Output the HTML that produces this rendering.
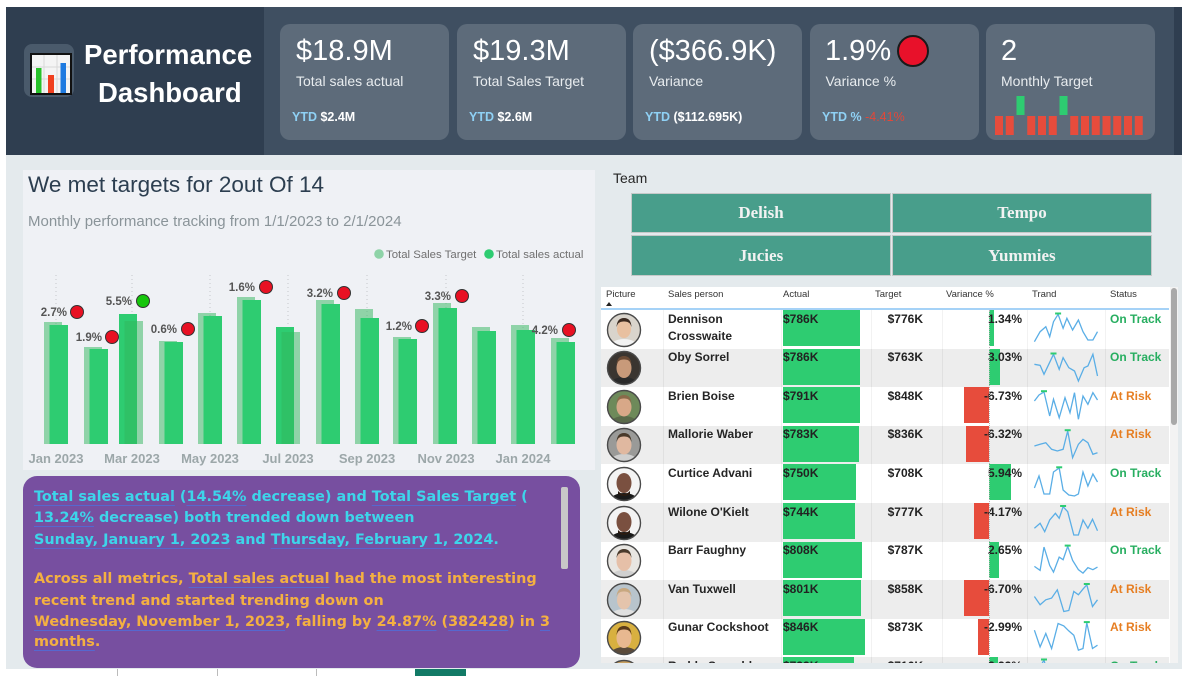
<!DOCTYPE html>
<html><head><meta charset="utf-8">
<style>
*{margin:0;padding:0;box-sizing:border-box}
body{width:1200px;height:676px;overflow:hidden;background:#fff;font-family:"Liberation Sans",Arial,sans-serif;position:relative}
.a{position:absolute}
.card{position:absolute;top:24px;width:169px;height:116px;background:#5d6b7a;border-radius:10px;color:#fff}
.card .v{position:absolute;left:16px;top:12.5px;font-size:29px;line-height:29px;white-space:nowrap}
.card .l{position:absolute;left:16px;top:50px;font-size:14px;line-height:14px;color:#e8ecef;white-space:nowrap}
.card .y{position:absolute;left:12px;top:86.5px;font-size:12.5px;line-height:12.5px;font-weight:bold;white-space:nowrap}
.card .y b{color:#8fd1f5}
.btn{position:absolute;background:#489e8b;border:1px solid #c6c9c9;color:#f2f2f2;font:bold 17px "Liberation Serif",serif;display:flex;align-items:center;justify-content:center}
.pt{position:absolute;left:34px;font:bold 14.4px/21px "DejaVu Sans",sans-serif;white-space:nowrap}
.u{text-decoration:underline;text-decoration-color:#5668cf;text-underline-offset:4px;text-decoration-thickness:1px}
.th{position:absolute;top:290px;font-size:9.5px;line-height:10px;color:#333;white-space:nowrap}
.row{position:absolute;left:601px;width:568px;height:38.6px}
.row .nm{position:absolute;left:67px;top:0.5px;font:bold 12px/17px "Liberation Sans",Arial,sans-serif;color:#252525}
.row .ab{position:absolute;left:182px;top:0;height:36px;background:#2ecc71}
.row .at{position:absolute;left:182px;top:0.5px;font:bold 12px/17px "Liberation Sans",Arial,sans-serif;color:#222}
.row .tt{position:absolute;left:221px;width:101px;text-align:right;top:0.5px;font:bold 12px/17px "Liberation Sans",Arial,sans-serif;color:#222}
.row .vb{position:absolute;top:0;height:36px}
.row .vt{position:absolute;left:341px;width:80px;text-align:right;top:0.5px;font:bold 12px/17px "Liberation Sans",Arial,sans-serif;color:#222}
.row .st{position:absolute;left:509px;top:0.5px;font:bold 12px/17px "Liberation Sans",Arial,sans-serif}
.row svg.sp{position:absolute;left:433px;top:0;overflow:visible}
.row svg.av{position:absolute;left:5px;top:1.5px}
.on{color:#27ae60}.rk{color:#e67e22}
.g{background:#ededed}
</style></head><body>

<!-- header -->
<div class="a" style="left:6px;top:7px;width:1176px;height:148px;background:#3f4f61"></div>
<div class="a" style="left:6px;top:7px;width:258px;height:148px;background:#2f3e50"></div>
<div class="a" style="left:1174px;top:7px;width:8px;height:148px;background:#2f3e50"></div>

<!-- logo -->
<div class="a" style="left:24px;top:44px;width:50px;height:53px;background:#4a5a6b;border-radius:8px"></div>
<svg class="a" style="left:30px;top:53px" width="42" height="42" viewBox="0 0 42 42">
<rect x="1" y="1" width="40" height="40" fill="#f4f4f4" stroke="#111" stroke-width="2"/>
<path d="M2 14H40M2 26H40M14 2V40M27 2V40" stroke="#d8d8d8" stroke-width="1"/>
<rect x="6" y="15" width="5.5" height="25" fill="#27c22a"/>
<rect x="18" y="22" width="6" height="18" fill="#f0401f"/>
<rect x="30.5" y="10" width="5.5" height="30" fill="#1e7ae0"/>
</svg>
<div class="a" style="left:84px;top:40.7px;font:bold 27.5px/27.5px 'Liberation Sans',Arial,sans-serif;color:#fff;white-space:nowrap">Performance</div>
<div class="a" style="left:98px;top:78.7px;font:bold 27.5px/27.5px 'Liberation Sans',Arial,sans-serif;color:#fff;white-space:nowrap">Dashboard</div>

<!-- KPI cards -->
<div class="card" style="left:280px"><div class="v">$18.9M</div><div class="l">Total sales actual</div><div class="y"><b>YTD</b> $2.4M</div></div>
<div class="card" style="left:457px"><div class="v">$19.3M</div><div class="l">Total Sales Target</div><div class="y"><b>YTD</b> $2.6M</div></div>
<div class="card" style="left:633px"><div class="v">($366.9K)</div><div class="l">Variance</div><div class="y"><b>YTD</b> ($112.695K)</div></div>
<div class="card" style="left:810px"><div class="v" style="left:15px">1.9%</div>
<div class="a" style="left:87px;top:11px;width:32px;height:32px;border-radius:50%;background:#e8112a;border:2px solid #1a1a1a"></div>
<div class="l" style="left:15.5px">Variance %</div><div class="y"><b>YTD %</b> <span style="color:#e0483a;font-weight:normal">-4.41%</span></div></div>
<div class="card" style="left:986px"><div class="v" style="left:15px">2</div><div class="l" style="left:15px">Monthly Target</div>
<svg class="a" style="left:0;top:0" width="169" height="116">
<g fill="#e74c3c">
<rect x="9" y="92" width="8" height="19"/><rect x="19.75" y="92" width="8" height="19"/>
<rect x="41.25" y="92" width="8" height="19"/><rect x="52" y="92" width="8" height="19"/><rect x="62.75" y="92" width="8" height="19"/>
<rect x="84.25" y="92" width="8" height="19"/><rect x="95" y="92" width="8" height="19"/><rect x="105.75" y="92" width="8" height="19"/><rect x="116.5" y="92" width="8" height="19"/><rect x="127.25" y="92" width="8" height="19"/><rect x="138" y="92" width="8" height="19"/><rect x="148.75" y="92" width="8" height="19"/>
</g>
<g fill="#2ecc71"><rect x="30.5" y="72" width="8" height="19"/><rect x="73.5" y="72" width="8" height="19"/></g>
</svg></div>

<!-- main bg -->
<div class="a" style="left:6px;top:155px;width:1176px;height:514px;background:#e4eaed"></div>

<!-- chart panel -->
<div class="a" style="left:23px;top:170px;width:572px;height:300px;background:#eff1f5"></div>
<div class="a" style="left:28px;top:174px;font-size:22.5px;line-height:22.5px;color:#2c3e50;white-space:nowrap">We met targets for 2out Of 14</div>
<div class="a" style="left:28px;top:213.5px;font-size:15px;line-height:15px;color:#8a9499;white-space:nowrap">Monthly performance tracking from 1/1/2023 to 2/1/2024</div>

<svg class="a" style="left:0;top:0" width="600" height="470" viewBox="0 0 600 470">
<g stroke="#c4c8cc" stroke-width="1" stroke-dasharray="1,3">
<line x1="56" y1="275" x2="56" y2="444"/><line x1="132" y1="275" x2="132" y2="444"/><line x1="210" y1="275" x2="210" y2="444"/><line x1="288" y1="275" x2="288" y2="444"/><line x1="367" y1="275" x2="367" y2="444"/><line x1="446" y1="275" x2="446" y2="444"/><line x1="523" y1="275" x2="523" y2="444"/>
</g>
<circle cx="379" cy="254" r="4.8" fill="#8ed3a7"/>
<text x="386" y="258" font-family="Liberation Sans, Arial, sans-serif" font-size="11.4" fill="#707070">Total Sales Target</text>
<circle cx="489" cy="254" r="4.8" fill="#2ecc71"/>
<text x="496" y="258" font-family="Liberation Sans, Arial, sans-serif" font-size="11.4" fill="#707070">Total sales actual</text>
<g>
<rect x="44" y="322" width="18" height="122" fill="rgba(47,181,91,0.5)"/><rect x="49.5" y="325" width="18.5" height="119" fill="#2ecc71"/>
<rect x="84" y="347" width="18" height="97" fill="rgba(47,181,91,0.5)"/><rect x="89.5" y="349" width="18.5" height="95" fill="#2ecc71"/>
<rect x="119" y="314" width="18" height="130" fill="#2ecc71"/><rect x="124.5" y="321" width="18.5" height="123" fill="rgba(47,181,91,0.5)"/>
<rect x="159" y="341" width="18" height="103" fill="rgba(47,181,91,0.5)"/><rect x="164.5" y="342" width="18.5" height="102" fill="#2ecc71"/>
<rect x="198" y="313" width="18" height="131" fill="rgba(47,181,91,0.5)"/><rect x="203.5" y="316" width="18.5" height="128" fill="#2ecc71"/>
<rect x="237" y="297" width="18" height="147" fill="rgba(47,181,91,0.5)"/><rect x="242.5" y="300" width="18.5" height="144" fill="#2ecc71"/>
<rect x="276" y="327" width="18" height="117" fill="#2ecc71"/><rect x="281.5" y="332" width="18.5" height="112" fill="rgba(47,181,91,0.5)"/>
<rect x="316" y="300" width="18" height="144" fill="rgba(47,181,91,0.5)"/><rect x="321.5" y="304" width="18.5" height="140" fill="#2ecc71"/>
<rect x="355" y="309" width="18" height="135" fill="rgba(47,181,91,0.5)"/><rect x="360.5" y="318" width="18.5" height="126" fill="#2ecc71"/>
<rect x="393" y="337" width="18" height="107" fill="rgba(47,181,91,0.5)"/><rect x="398.5" y="339" width="18.5" height="105" fill="#2ecc71"/>
<rect x="433" y="303" width="18" height="141" fill="rgba(47,181,91,0.5)"/><rect x="438.5" y="308" width="18.5" height="136" fill="#2ecc71"/>
<rect x="472" y="327" width="18" height="117" fill="rgba(47,181,91,0.5)"/><rect x="477.5" y="331" width="18.5" height="113" fill="#2ecc71"/>
<rect x="511" y="325" width="18" height="119" fill="rgba(47,181,91,0.5)"/><rect x="516.5" y="330" width="18.5" height="114" fill="#2ecc71"/>
<rect x="551" y="338" width="18" height="106" fill="rgba(47,181,91,0.5)"/><rect x="556.5" y="342" width="18.5" height="102" fill="#2ecc71"/>
</g>
<g font-family="Liberation Sans, Arial, sans-serif" font-size="11.5" font-weight="bold" fill="#555" text-anchor="end">
<text x="67" y="316">2.7%</text><text x="102" y="341">1.9%</text><text x="132" y="305">5.5%</text><text x="177" y="333">0.6%</text><text x="255" y="291">1.6%</text><text x="333" y="297">3.2%</text><text x="412" y="330">1.2%</text><text x="451" y="300">3.3%</text><text x="558" y="334">4.2%</text>
</g>
<g fill="#e81123" stroke="#333" stroke-width="1">
<circle cx="77" cy="312" r="6.5"/><circle cx="112" cy="337" r="6.5"/><circle cx="188" cy="329" r="6.5"/><circle cx="266" cy="287" r="6.5"/><circle cx="344" cy="293" r="6.5"/><circle cx="422" cy="326" r="6.5"/><circle cx="462" cy="296" r="6.5"/><circle cx="569" cy="330" r="6.5"/>
<circle cx="143" cy="301" r="6.5" fill="#16c60c"/>
</g>
<g font-family="Liberation Sans, Arial, sans-serif" font-size="13" font-weight="bold" fill="#9ca7a9" text-anchor="middle">
<text x="56" y="463">Jan 2023</text><text x="132" y="463">Mar 2023</text><text x="210" y="463">May 2023</text><text x="288" y="463">Jul 2023</text><text x="367" y="463">Sep 2023</text><text x="446" y="463">Nov 2023</text><text x="523" y="463">Jan 2024</text>
</g>
</svg>

<!-- purple narrative -->
<div class="a" style="left:23px;top:476px;width:557px;height:192px;background:#774fa0;border-radius:14px"></div>
<div class="a" style="left:561px;top:487px;width:7px;height:82px;background:#c8c8c8;border-radius:2px"></div>
<div class="pt" style="top:486.5px;color:#3dd5ea"><span class="u">Total sales actual</span> (<span class="u">14.54%</span> decrease) and <span class="u">Total Sales Target</span> (</div>
<div class="pt" style="top:508px;color:#3dd5ea"><span class="u">13.24%</span> decrease) both trended down between</div>
<div class="pt" style="top:529.5px;color:#3dd5ea"><span class="u">Sunday, January 1, 2023</span> and <span class="u">Thursday, February 1, 2024</span>.</div>
<div class="pt" style="top:568.5px;color:#f4b041">Across all metrics, <span class="u">Total sales actual</span> had the most interesting</div>
<div class="pt" style="top:590.5px;color:#f4b041">recent trend and started trending down on</div>
<div class="pt" style="top:611.5px;color:#f4b041"><span class="u">Wednesday, November 1, 2023</span>, falling by <span class="u">24.87%</span> (<span class="u">382428</span>) in <span class="u">3</span></div>
<div class="pt" style="top:631.5px;color:#f4b041"><span class="u">months</span>.</div>

<!-- bottom tabs -->
<div class="a" style="left:117px;top:669px;width:1px;height:7px;background:#bbb"></div>
<div class="a" style="left:217px;top:669px;width:1px;height:7px;background:#bbb"></div>
<div class="a" style="left:316px;top:669px;width:1px;height:7px;background:#bbb"></div>
<div class="a" style="left:415px;top:669px;width:51px;height:7px;background:#127a66"></div>

<!-- team -->
<div class="a" style="left:613px;top:171px;font-size:14px;line-height:14px;color:#252525">Team</div>
<div class="btn" style="left:631px;top:193px;width:260px;height:40px">Delish</div>
<div class="btn" style="left:892px;top:193px;width:260px;height:40px">Tempo</div>
<div class="btn" style="left:631px;top:235px;width:260px;height:41px">Jucies</div>
<div class="btn" style="left:892px;top:235px;width:260px;height:41px">Yummies</div>

<!-- table -->
<div class="a" style="left:601px;top:287px;width:577px;height:376px;background:#fff;overflow:hidden">
</div>
<div class="a" style="left:1170px;top:287px;width:8px;height:376px;background:#f3f3f3"></div>
<div class="a" style="left:1171px;top:288px;width:6px;height:137px;background:#a9a9a9;border-radius:3px"></div>
<div class="th" style="left:606px">Picture</div>
<div class="a" style="left:606px;top:302px;width:0;height:0;border-left:3px solid transparent;border-right:3px solid transparent;border-bottom:4px solid #222"></div>
<div class="th" style="left:668px">Sales person</div>
<div class="th" style="left:783px">Actual</div>
<div class="th" style="left:875px">Target</div>
<div class="th" style="left:946px">Variance %</div>
<div class="th" style="left:1032px">Trand</div>
<div class="th" style="left:1110px">Status</div>
<div class="a" style="left:601px;top:308px;width:568px;height:2px;background:#a5d2f7"></div>

<div class="a" style="left:601px;top:310px;width:568px;height:353px;overflow:hidden">
<div style="position:absolute;left:-601px;top:-310px;width:1200px;height:700px">

<div class="row" style="top:310px">
<svg class="av" width="36" height="36"><clipPath id="k1"><circle cx="18" cy="18" r="16.5"/></clipPath><g clip-path="url(#k1)"><rect width="36" height="36" fill="#d9d4cc"/><ellipse cx="18" cy="35" rx="14" ry="8" fill="#f2f2f2"/><ellipse cx="18" cy="17" rx="7" ry="9" fill="#e8c0a0"/><path d="M10.5 15Q11 6 18 6Q25 6 25.5 15Q24 9 18 9.5Q12 9 10.5 15Z" fill="#3b2a20"/></g><circle cx="18" cy="18" r="16.5" fill="none" stroke="#4a4a4a" stroke-width="1.4"/></svg>
<div class="nm">Dennison<br>Crosswaite</div>
<div class="ab" style="width:76.5px"></div><div class="at">$786K</div>
<div class="tt">$776K</div>
<div class="vb" style="left:388px;width:5px;background:#2ecc71"></div><div class="vt">1.34%</div>
<svg class="sp" width="66" height="38"><polyline fill="none" stroke="#5aaee6" stroke-width="1.3" points="0.4,31.7 6.1,21.7 11.8,16.7 15.7,26.7 19.5,11.7 24.1,4.3 29.1,18.3 32.9,8.3 38.6,20 44.4,10 49,21.7 53.9,30 58.9,30 63.5,21.7"/><rect x="21.1" y="2.5" width="6" height="2" fill="#2ecc71"/></svg>
<div class="st on">On Track</div>
</div>

<div class="row g" style="top:348.6px">
<svg class="av" width="36" height="36"><clipPath id="k2"><circle cx="18" cy="18" r="16.5"/></clipPath><g clip-path="url(#k2)"><rect width="36" height="36" fill="#3a3530"/><ellipse cx="18" cy="35" rx="14" ry="8" fill="#2a2a2a"/><ellipse cx="18" cy="18" rx="7.5" ry="10" fill="#c89a7a"/><path d="M10.5 15Q11 6 18 6Q25 6 25.5 15Q24 9 18 9.5Q12 9 10.5 15Z" fill="#6a4a34"/></g><circle cx="18" cy="18" r="16.5" fill="none" stroke="#4a4a4a" stroke-width="1.4"/></svg>
<div class="nm">Oby Sorrel</div>
<div class="ab" style="width:76.5px"></div><div class="at">$786K</div>
<div class="tt">$763K</div>
<div class="vb" style="left:388px;width:11.2px;background:#2ecc71"></div><div class="vt">3.03%</div>
<svg class="sp" width="66" height="38"><polyline fill="none" stroke="#5aaee6" stroke-width="1.3" points="0.4,15.3 6.1,16.3 10,25.3 19.5,5.3 25.2,20.3 29.1,8.7 34.8,18.7 40.5,22 44.4,32 50.1,18.7 53.9,17 58.9,5.3 63.5,27"/><rect x="16.5" y="3.5" width="6" height="2" fill="#2ecc71"/></svg>
<div class="st on">On Track</div>
</div>

<div class="row" style="top:387.2px">
<svg class="av" width="36" height="36"><clipPath id="k3"><circle cx="18" cy="18" r="16.5"/></clipPath><g clip-path="url(#k3)"><rect width="36" height="36" fill="#6e8a5a"/><ellipse cx="18" cy="35" rx="14" ry="8" fill="#5a6a4a"/><ellipse cx="18" cy="18" rx="7.5" ry="9.5" fill="#d8a888"/><path d="M10.5 15Q11 6 18 6Q25 6 25.5 15Q24 9 18 9.5Q12 9 10.5 15Z" fill="#8a6a4a"/></g><circle cx="18" cy="18" r="16.5" fill="none" stroke="#4a4a4a" stroke-width="1.4"/></svg>
<div class="nm">Brien Boise</div>
<div class="ab" style="width:77px"></div><div class="at">$791K</div>
<div class="tt">$848K</div>
<div class="vb" style="left:363.1px;width:24.9px;background:#e74c3c"></div><div class="vt">-6.73%</div>
<svg class="sp" width="66" height="38"><polyline fill="none" stroke="#5aaee6" stroke-width="1.3" points="0.4,14 5,8 10,5 15.7,29 19.5,12.3 25.2,30.7 31,10.7 36,25.7 40.5,5.7 44.4,32.3 49,9 53.9,17.3 58.9,5.7 63.5,13"/><rect x="7" y="3.2" width="6" height="2" fill="#2ecc71"/></svg>
<div class="st rk">At Risk</div>
</div>

<div class="row g" style="top:425.8px">
<svg class="av" width="36" height="36"><clipPath id="k4"><circle cx="18" cy="18" r="16.5"/></clipPath><g clip-path="url(#k4)"><rect width="36" height="36" fill="#9a9a98"/><ellipse cx="18" cy="35" rx="14" ry="8" fill="#cfcfcf"/><ellipse cx="18" cy="18" rx="7.5" ry="9.5" fill="#e0b8a0"/><path d="M10.5 15Q11 6 18 6Q25 6 25.5 15Q24 9 18 9.5Q12 9 10.5 15Z" fill="#4a3a2a"/></g><circle cx="18" cy="18" r="16.5" fill="none" stroke="#4a4a4a" stroke-width="1.4"/></svg>
<div class="nm">Mallorie Waber</div>
<div class="ab" style="width:76.2px"></div><div class="at">$783K</div>
<div class="tt">$836K</div>
<div class="vb" style="left:364.6px;width:23.4px;background:#e74c3c"></div><div class="vt">-6.32%</div>
<svg class="sp" width="66" height="38"><polyline fill="none" stroke="#5aaee6" stroke-width="1.3" points="0.4,20 6.1,18.3 11.8,16.7 17.6,23.3 23.3,25 29.1,23.3 33.7,5 38.6,31.7 44.4,18.3 49,13.3 53.9,16.7 58.9,28.3 63.5,26.7"/><rect x="30.7" y="3.2" width="6" height="2" fill="#2ecc71"/></svg>
<div class="st rk">At Risk</div>
</div>

<div class="row" style="top:464.4px">
<svg class="av" width="36" height="36"><clipPath id="k5"><circle cx="18" cy="18" r="16.5"/></clipPath><g clip-path="url(#k5)"><rect width="36" height="36" fill="#f4f4f4"/><ellipse cx="18" cy="35" rx="14" ry="8" fill="#1a1a1a"/><ellipse cx="18" cy="17" rx="7.5" ry="10" fill="#7a5040"/><path d="M12 25Q18 31 24 25L24 28Q18 32 12 28Z" fill="#2a1a10"/></g><circle cx="18" cy="18" r="16.5" fill="none" stroke="#4a4a4a" stroke-width="1.4"/></svg>
<div class="nm">Curtice Advani</div>
<div class="ab" style="width:73px"></div><div class="at">$750K</div>
<div class="tt">$708K</div>
<div class="vb" style="left:388px;width:22px;background:#2ecc71"></div><div class="vt">5.94%</div>
<svg class="sp" width="66" height="38"><polyline fill="none" stroke="#5aaee6" stroke-width="1.3" points="0.4,24 5,12 10,30 15.7,30 19.5,8 25.2,4 29.1,26 34.8,31 40.5,32 44.4,30 49,8 53.9,22 58.9,10 63.5,18"/><rect x="22.2" y="2.3" width="6" height="2" fill="#2ecc71"/></svg>
<div class="st on">On Track</div>
</div>

<div class="row g" style="top:503px">
<svg class="av" width="36" height="36"><clipPath id="k6"><circle cx="18" cy="18" r="16.5"/></clipPath><g clip-path="url(#k6)"><rect width="36" height="36" fill="#f4f4f4"/><ellipse cx="18" cy="35" rx="14" ry="8" fill="#1a1a1a"/><ellipse cx="18" cy="17" rx="7.5" ry="10" fill="#7a5040"/><path d="M12 25Q18 31 24 25L24 28Q18 32 12 28Z" fill="#2a1a10"/></g><circle cx="18" cy="18" r="16.5" fill="none" stroke="#4a4a4a" stroke-width="1.4"/></svg>
<div class="nm">Wilone O'Kielt</div>
<div class="ab" style="width:72.4px"></div><div class="at">$744K</div>
<div class="tt">$777K</div>
<div class="vb" style="left:372.6px;width:15.4px;background:#e74c3c"></div><div class="vt">-4.17%</div>
<svg class="sp" width="66" height="38"><polyline fill="none" stroke="#5aaee6" stroke-width="1.3" points="0.4,25.3 6.1,20.3 10.7,28.7 15.7,17 21.4,10.3 25.2,15.3 29.1,3.7 33.7,8.7 39.8,32 44.4,32 49,17 53.9,25.3 58.5,16.3 63.5,27.7"/><rect x="26.1" y="2" width="6" height="2" fill="#2ecc71"/></svg>
<div class="st rk">At Risk</div>
</div>

<div class="row" style="top:541.6px">
<svg class="av" width="36" height="36"><clipPath id="k7"><circle cx="18" cy="18" r="16.5"/></clipPath><g clip-path="url(#k7)"><rect width="36" height="36" fill="#e8e6e2"/><ellipse cx="18" cy="35" rx="14" ry="8" fill="#d0d0d0"/><ellipse cx="18" cy="18" rx="7.5" ry="10" fill="#e6c0a8"/><path d="M10.5 15Q11 6 18 6Q25 6 25.5 15Q24 9 18 9.5Q12 9 10.5 15Z" fill="#4a3a2c"/></g><circle cx="18" cy="18" r="16.5" fill="none" stroke="#4a4a4a" stroke-width="1.4"/></svg>
<div class="nm">Barr Faughny</div>
<div class="ab" style="width:78.6px"></div><div class="at">$808K</div>
<div class="tt">$787K</div>
<div class="vb" style="left:388px;width:9.8px;background:#2ecc71"></div><div class="vt">2.65%</div>
<svg class="sp" width="66" height="38"><polyline fill="none" stroke="#5aaee6" stroke-width="1.3" points="0.4,24.4 6.1,28.4 10,5.1 15.7,23.4 19.5,30.1 25.2,15.1 29.1,17.7 33.7,4.4 38.6,18.4 44.4,27.7 49,31.1 53.9,25.7 58.9,27.7 63.5,25.1"/><rect x="30.7" y="2.6" width="6" height="2" fill="#2ecc71"/></svg>
<div class="st on">On Track</div>
</div>

<div class="row g" style="top:580.2px">
<svg class="av" width="36" height="36"><clipPath id="k8"><circle cx="18" cy="18" r="16.5"/></clipPath><g clip-path="url(#k8)"><rect width="36" height="36" fill="#b8c4cc"/><ellipse cx="18" cy="35" rx="14" ry="8" fill="#e0e0e0"/><ellipse cx="18" cy="18" rx="7" ry="9.5" fill="#e4c4ac"/><path d="M10.5 15Q11 6 18 6Q25 6 25.5 15Q24 9 18 9.5Q12 9 10.5 15Z" fill="#c8a880"/></g><circle cx="18" cy="18" r="16.5" fill="none" stroke="#4a4a4a" stroke-width="1.4"/></svg>
<div class="nm">Van Tuxwell</div>
<div class="ab" style="width:77.9px"></div><div class="at">$801K</div>
<div class="tt">$858K</div>
<div class="vb" style="left:363.2px;width:24.8px;background:#e74c3c"></div><div class="vt">-6.70%</div>
<svg class="sp" width="66" height="38"><polyline fill="none" stroke="#5aaee6" stroke-width="1.3" points="0.4,16.5 6.1,24.8 11.8,19.8 17.6,18.1 23.3,9.8 29.8,31.5 34.8,30.5 39.8,11.5 44.4,14.8 49,9.1 52.8,4.8 58.5,26.5 63.5,19.8"/><rect x="49.8" y="3" width="6" height="2" fill="#2ecc71"/></svg>
<div class="st rk">At Risk</div>
</div>

<div class="row" style="top:618.8px">
<svg class="av" width="36" height="36"><clipPath id="k9"><circle cx="18" cy="18" r="16.5"/></clipPath><g clip-path="url(#k9)"><rect width="36" height="36" fill="#d8b040"/><ellipse cx="18" cy="35" rx="14" ry="8" fill="#5a4a3a"/><ellipse cx="18" cy="18" rx="7.5" ry="10" fill="#e8b890"/><path d="M10.5 15Q11 6 18 6Q25 6 25.5 15Q24 9 18 9.5Q12 9 10.5 15Z" fill="#5a3a1a"/></g><circle cx="18" cy="18" r="16.5" fill="none" stroke="#4a4a4a" stroke-width="1.4"/></svg>
<div class="nm">Gunar Cockshoot</div>
<div class="ab" style="width:82.3px"></div><div class="at">$846K</div>
<div class="tt">$873K</div>
<div class="vb" style="left:376.9px;width:11.1px;background:#e74c3c"></div><div class="vt">-2.99%</div>
<svg class="sp" width="66" height="38"><polyline fill="none" stroke="#5aaee6" stroke-width="1.3" points="0.4,11.2 6.1,27.9 11.8,14.5 17.6,29.5 24.1,4.5 29.8,6.9 34.8,11.9 39.8,16.2 44.4,31.2 49,29.5 52.8,3.9 58.5,29.5 63.5,26.2"/><rect x="49.8" y="2.1" width="6" height="2" fill="#2ecc71"/></svg>
<div class="st rk">At Risk</div>
</div>

<div class="row g" style="top:657.4px">
<svg class="av" width="36" height="36"><clipPath id="k10"><circle cx="18" cy="18" r="16.5"/></clipPath><g clip-path="url(#k10)"><rect width="36" height="36" fill="#c8a060"/><ellipse cx="18" cy="18" rx="7.5" ry="10" fill="#e0b890"/><path d="M10.5 15Q11 6 18 6Q25 6 25.5 15Q24 9 18 9.5Q12 9 10.5 15Z" fill="#5a3a1a"/></g><circle cx="18" cy="18" r="16.5" fill="none" stroke="#4a4a4a" stroke-width="1.4"/></svg>
<div class="nm">Reddy Scrauble</div>
<div class="ab" style="width:71.3px"></div><div class="at">$733K</div>
<div class="tt">$716K</div>
<div class="vb" style="left:388px;width:8.6px;background:#2ecc71"></div><div class="vt">2.32%</div>
<svg class="sp" width="66" height="38"><polyline fill="none" stroke="#5aaee6" stroke-width="1.3" points="0.4,20 5,12 10,3 15.7,25 21,14 26,28"/><rect x="7" y="1.5" width="6" height="2" fill="#2ecc71"/></svg>
<div class="st on">On Track</div>
</div>

<!-- column separators & axis -->
<div class="a" style="left:663px;top:287px;width:1px;height:380px;background:rgba(0,0,0,0.05)"></div>
<div class="a" style="left:781px;top:287px;width:1px;height:380px;background:rgba(0,0,0,0.05)"></div>
<div class="a" style="left:871px;top:287px;width:1px;height:380px;background:rgba(0,0,0,0.05)"></div>
<div class="a" style="left:942px;top:287px;width:1px;height:380px;background:rgba(0,0,0,0.05)"></div>
<div class="a" style="left:1027px;top:287px;width:1px;height:380px;background:rgba(0,0,0,0.05)"></div>
<div class="a" style="left:1105px;top:287px;width:1px;height:380px;background:rgba(0,0,0,0.05)"></div>
<div class="a" style="left:989px;top:310px;width:0;height:360px;border-left:1px dotted #b5b5b5"></div>
</div>
</div>

</body></html>
